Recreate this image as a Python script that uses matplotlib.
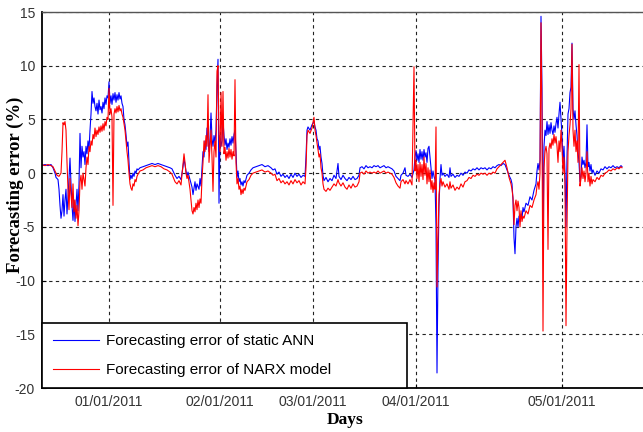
import matplotlib
matplotlib.use('Agg')
import matplotlib.pyplot as plt

plt.rcParams['axes.unicode_minus'] = False

# sample index (arbitrary units)
ann_t = [42, 45, 48, 51, 53, 55, 56, 58, 59, 60, 61, 62, 63, 64, 65, 66, 67, 68, 69, 70,
         71, 72, 73, 74, 75, 76, 77, 78, 79, 80, 81, 82, 83, 84, 85, 86, 87, 88, 89, 90,
         91, 92, 93, 94, 95, 96, 97, 98, 99, 100, 101, 102, 103, 104, 105, 106, 107, 108, 109, 110,
         111, 112, 113, 114, 115, 116, 117, 118, 119, 120, 121, 122, 123, 124, 125, 126, 127, 128, 129, 130,
         131, 132, 133, 134, 135, 136, 137, 138, 140, 143, 146, 149, 152, 155, 158, 161, 164, 167, 170, 172,
         175, 177, 179, 181, 183, 184, 185, 186, 187, 188, 190, 192, 193, 194, 195, 196, 197, 199, 200, 201,
         202, 203, 204, 205, 206, 207, 208, 209, 210, 211, 212, 213, 214, 215, 216, 217, 218, 219, 220, 221,
         222, 223, 224, 225, 226, 227, 228, 229, 230, 231, 232, 233, 234, 235, 236, 237, 238, 239, 240, 241,
         242, 243, 244, 245, 247, 249, 251, 253, 256, 259, 262, 265, 268, 271, 273, 275, 277, 279, 281, 283,
         285, 287, 289, 291, 293, 295, 297, 299, 301, 303, 305, 306, 307, 308, 310, 312, 314, 315, 316, 317,
         318, 319, 320, 321, 322, 323, 324, 326, 328, 330, 332, 334, 336, 338, 339, 341, 343, 345, 347, 349,
         351, 353, 355, 357, 359, 360, 362, 364, 366, 368, 370, 372, 374, 376, 378, 380, 382, 384, 386, 388,
         390, 392, 394, 396, 398, 400, 401, 403, 405, 406, 408, 410, 412, 414, 415, 416, 417, 418, 419, 420,
         421, 422, 423, 424, 425, 426, 427, 428, 429, 430, 431, 432, 433, 434, 435, 436, 437, 438, 439, 440,
         441, 442, 443, 445, 447, 449, 450, 451, 453, 455, 457, 459, 461, 463, 465, 467, 469, 471, 473, 475,
         477, 479, 481, 483, 485, 487, 489, 491, 493, 495, 497, 499, 501, 503, 505, 507, 509, 511, 512, 513,
         514, 515, 516, 517, 518, 519, 520, 521, 522, 523, 524, 526, 528, 530, 532, 534, 536, 537, 538, 539,
         540, 541, 542, 543, 544, 545, 546, 547, 548, 549, 550, 551, 552, 553, 554, 555, 556, 557, 558, 559,
         560, 561, 562, 563, 564, 565, 566, 567, 568, 569, 570, 571, 572, 573, 574, 575, 576, 577, 578, 579,
         580, 581, 582, 583, 584, 585, 586, 587, 588, 589, 590, 591, 592, 593, 595, 597, 599, 601, 603, 605,
         607, 609, 611, 613, 615, 617, 619, 621, 622]
ann_err = [0.7, 0.8, 0.7, 0.8, 0.5, 0.0, -0.4, -0.6, -1.5, -3.0, -4.2, -3.5, -2.0, -4.0, -2.5, -1.5, -3.8, -2.2, -0.5, 1.4,
           -1.0, -3.0, -4.4, -2.5, -4.5, -3.0, -1.5, -3.5, -1.0, 3.7, 0.5, 2.5, 1.5, 2.0, 0.8, 2.5, 1.8, 3.0, 2.2, 4.0,
           5.5, 7.6, 6.5, 7.0, 6.2, 5.8, 6.5, 5.5, 6.8, 5.9, 6.2, 5.6, 6.6, 6.0, 7.0, 6.4, 7.2, 7.0, 8.5, 6.5,
           7.2, 6.4, 7.4, 6.8, 7.5, 6.6, 7.3, 6.8, 7.5, 6.9, 7.2, 6.5, 6.2, 5.0, 4.5, 3.6, 2.5, 2.9, 1.0, -0.6,
           -0.2, -0.5, 0.0, -0.3, 0.2, 0.0, 0.4, 0.3, 0.5, 0.6, 0.7, 0.8, 0.9, 0.8, 0.9, 0.8, 0.7, 0.6, 0.5, 0.4,
           -0.2, -0.5, -0.3, -0.6, 0.6, 1.3, 0.8, 0.2, -0.3, 0.1, -0.6, -1.3, -2.0, -1.4, -0.8, -1.6, -1.0, -1.5, -0.5, -1.2,
           0.5, 2.0, 1.5, 3.0, 2.2, 4.2, 3.0, 2.0, 3.2, 5.6, 3.2, 2.5, 3.5, 2.8, 4.0, 8.0, 10.6, -2.8, 3.5, 2.5,
           3.0, 4.8, 3.5, 2.6, 3.2, 2.2, 2.8, 2.4, 3.2, 2.6, 3.4, 2.8, 3.6, 4.0, 2.0, -0.4, 0.2, -0.8, -0.5, -1.1,
           -0.8, -1.2, -0.7, -0.9, -0.2, 0.0, 0.3, 0.5, 0.6, 0.7, 0.8, 0.6, 0.7, 0.5, 0.3, 0.4, -0.1, 0.1, -0.3, -0.1,
           -0.4, -0.2, -0.5, -0.1, -0.4, 0.0, -0.3, -0.1, -0.4, -0.2, -0.3, 1.5, 4.0, 4.3, 4.0, 4.5, 4.8, 4.3, 4.0, 3.2,
           3.0, 2.2, 2.5, 1.5, 0.9, -0.2, -0.7, -0.4, -0.8, -0.5, -0.7, -0.2, -0.5, 0.9, -0.3, -0.6, -0.2, -0.5, -0.7, -0.4,
           -0.6, -0.3, -0.6, -0.5, -0.2, 0.5, 0.6, 0.4, 0.7, 0.5, 0.6, 0.5, 0.7, 0.6, 0.7, 0.5, 0.6, 0.7, 0.5, 0.6,
           0.5, 0.4, 0.2, -0.3, -0.5, -0.7, -0.2, 0.0, 0.5, -0.2, -0.3, -0.1, -0.4, 0.3, 1.5, 2.1, 1.2, 1.8, 1.0, 2.2,
           1.3, 2.0, 1.2, 2.2, 1.5, 1.9, 1.0, 2.3, 2.5, 1.5, 0.5, -0.5, 0.2, -0.3, -0.6, -5.0, -18.6, -9.0, -3.0, -0.5,
           0.8, -0.2, 0.0, -0.3, -0.1, -0.4, 0.5, -0.3, -0.1, -0.4, -0.2, -0.3, 0.0, -0.2, 0.1, 0.0, 0.3, 0.2, 0.4, 0.3,
           0.5, 0.3, 0.5, 0.4, 0.5, 0.3, 0.5, 0.4, 0.6, 0.5, 0.7, 0.8, 0.7, 0.9, 0.8, 0.3, -0.2, -0.6, -1.0, -2.5,
           -6.0, -7.5, -5.0, -4.2, -5.0, -4.0, -4.5, -3.8, -4.2, -3.2, -3.6, -2.8, -3.0, -2.2, -2.5, -1.6, -1.0, 0.2, 0.9, 0.3,
           1.2, 14.6, 7.9, -6.6, 2.5, 4.0, 3.5, 4.8, 3.6, 4.5, 3.7, 4.7, 4.0, 3.6, 4.4, 3.8, 4.6, 5.2, 4.2, 5.5,
           6.6, 5.0, 3.5, 1.0, 2.5, 0.0, -5.0, 1.5, 5.5, 6.0, 7.5, 8.0, 12.1, 6.0, 5.0, 5.8, 4.5, 3.5, 2.0, 1.0,
           -0.8, -0.3, 1.5, 0.8, 1.2, 0.5, 1.0, 4.5, 0.6, 1.0, 0.2, 0.8, 0.0, 0.3, -0.2, 0.2, 0.0, 0.4, 0.3, 0.6,
           0.4, 0.6, 0.5, 0.7, 0.5, 0.6, 0.5, 0.7, 0.6]

narx_t = [42, 45, 48, 51, 53, 55, 57, 59, 61, 62, 63, 64, 65, 66, 67, 68, 69, 70, 71, 72,
          73, 74, 75, 76, 77, 78, 79, 80, 81, 82, 83, 84, 85, 86, 87, 88, 89, 90, 91, 92,
          93, 94, 95, 96, 97, 98, 99, 100, 101, 102, 103, 104, 105, 106, 107, 108, 109, 110, 111, 112,
          113, 114, 115, 116, 117, 118, 119, 120, 121, 122, 123, 124, 125, 126, 127, 128, 129, 130, 131, 132,
          133, 134, 135, 136, 137, 138, 140, 143, 146, 149, 152, 155, 158, 161, 164, 167, 170, 172, 175, 177,
          179, 181, 183, 184, 185, 186, 187, 188, 190, 191, 192, 193, 194, 195, 196, 197, 198, 199, 200, 201,
          202, 203, 204, 205, 206, 207, 208, 209, 210, 211, 212, 213, 214, 215, 216, 217, 218, 219, 220, 221,
          222, 223, 224, 225, 226, 227, 228, 229, 230, 231, 232, 233, 234, 235, 236, 237, 238, 239, 240, 241,
          242, 243, 244, 245, 247, 249, 251, 253, 256, 259, 262, 265, 268, 271, 273, 275, 277, 279, 281, 283,
          285, 287, 289, 291, 293, 295, 297, 299, 301, 303, 305, 306, 307, 308, 310, 312, 314, 315, 316, 317,
          318, 319, 320, 321, 322, 323, 324, 326, 328, 330, 332, 334, 336, 338, 339, 341, 343, 345, 347, 349,
          351, 353, 355, 357, 359, 360, 362, 364, 366, 368, 370, 372, 374, 376, 378, 380, 382, 384, 386, 388,
          390, 392, 394, 396, 398, 400, 401, 403, 405, 406, 408, 410, 412, 414, 415, 416, 417, 418, 419, 420,
          421, 422, 423, 424, 425, 426, 427, 428, 429, 430, 431, 432, 433, 434, 435, 436, 437, 438, 439, 440,
          441, 442, 443, 445, 447, 449, 450, 451, 453, 455, 457, 459, 461, 463, 465, 467, 469, 471, 473, 475,
          477, 479, 481, 483, 485, 487, 489, 491, 493, 495, 497, 499, 501, 503, 505, 507, 509, 511, 512, 513,
          514, 515, 516, 517, 518, 519, 520, 521, 522, 523, 524, 526, 528, 530, 532, 534, 536, 537, 538, 539,
          540, 541, 542, 543, 544, 545, 546, 547, 548, 549, 550, 551, 552, 553, 554, 555, 556, 557, 558, 559,
          560, 561, 562, 563, 564, 565, 566, 567, 568, 569, 570, 571, 572, 573, 574, 575, 576, 577, 578, 579,
          580, 581, 582, 583, 584, 585, 586, 587, 588, 589, 590, 591, 592, 593, 595, 597, 599, 601, 603, 605,
          607, 609, 611, 613, 615, 617, 619, 621, 622]
narx_err = [0.8, 0.7, 0.8, 0.7, 0.6, 0.2, -0.2, -0.3, 0.0, 2.0, 4.7, 4.5, 4.8, 4.0, 1.0, -1.5, -3.4, -0.5, -2.0, -3.2,
            -1.0, -3.6, -2.5, -4.2, -3.0, -4.9, -3.5, -0.8, -0.2, -1.5, 0.0, -0.6, -1.2, 0.5, 1.5, 0.8, 2.5, 2.0, 3.0, 2.6,
            3.6, 3.2, 4.2, 3.4, 4.0, 3.6, 4.3, 3.8, 4.4, 3.9, 4.6, 4.0, 4.8, 4.4, 5.2, 5.0, 7.9, 5.5, 6.0, 5.2,
            -3.0, 5.5, 6.0, 5.6, 6.2, 5.7, 6.3, 5.8, 6.0, 5.5, 5.2, 4.6, 4.0, 3.0, 2.0, 1.2, 0.0, -1.0, -1.4, -1.6,
            -1.0, -1.2, -0.6, -0.8, -0.3, -0.1, 0.2, 0.3, 0.5, 0.6, 0.7, 0.6, 0.7, 0.6, 0.4, 0.3, 0.1, -0.1, -0.8, -1.0,
            -0.7, -1.1, 0.8, 1.8, 1.0, 0.0, -0.5, -0.2, -1.5, -2.5, -3.5, -3.8, -3.2, -3.6, -2.8, -3.4, -2.5, -3.2, -2.4, -2.8,
            -0.5, 1.0, 3.0, 2.0, 3.5, 2.5, 7.3, 1.0, 2.5, 4.0, 1.5, -1.7, 2.0, 3.0, 1.5, 9.5, 10.0, 3.5, 2.0, 7.5,
            2.5, 7.6, 1.8, 2.4, 1.2, 2.0, 1.4, 2.3, 1.5, 2.2, 1.3, 2.0, 1.6, 8.7, 1.0, -1.0, -0.5, -1.5, -1.2, -2.0,
            -1.5, -1.9, -1.4, -1.6, -0.8, -0.6, -0.2, 0.0, 0.1, 0.2, 0.3, 0.1, 0.2, 0.0, -0.2, -0.1, -0.7, -0.5, -0.9, -0.7,
            -1.0, -0.8, -1.1, -0.7, -1.0, -0.6, -0.9, -0.7, -1.1, -0.8, -1.0, 0.5, 3.5, 4.0, 3.7, 4.2, 5.2, 4.0, 3.5, 2.8,
            2.2, 1.5, 1.8, 0.5, 0.0, -1.0, -1.5, -1.7, -1.4, -1.6, -1.3, -1.0, -1.2, -0.6, -0.9, -1.2, -0.9, -1.3, -1.5, -1.1,
            -1.4, -1.0, -1.3, -1.2, -0.8, 0.0, 0.1, -0.1, 0.2, 0.0, 0.1, 0.0, 0.1, 0.0, 0.2, 0.0, 0.1, 0.2, 0.0, 0.1,
            0.0, -0.1, -0.4, -0.9, -1.2, -1.4, -0.8, -0.6, -1.0, -0.7, -1.0, -0.6, -1.1, 9.9, 0.2, 1.2, -0.5, 0.8, -0.8, 1.0,
            -0.3, 0.8, -0.6, 1.5, -0.2, 0.9, -1.0, 0.5, -0.8, 0.3, -1.5, -0.7, -1.8, -0.9, -1.5, 4.3, -10.6, -6.0, -2.0, -1.0,
            -0.5, -1.2, -0.8, -1.3, -1.0, -1.5, -0.8, -1.4, -1.1, -1.6, -1.3, -1.5, -1.0, -1.3, -0.8, -0.7, -0.4, -0.5, -0.2, -0.3,
            -0.1, -0.2, 0.0, -0.1, 0.0, -0.2, 0.0, -0.1, 0.1, 0.0, 0.4, 0.6, 0.8, 1.0, 1.2, 0.5, -0.4, -1.0, -1.5, -2.3,
            -4.8, -3.0, -2.5, -3.5, -2.6, -3.2, -5.0, -3.5, -4.5, -4.0, -4.2, -3.5, -3.8, -3.0, -3.2, -2.5, -2.0, -1.2, -0.8, -1.5,
            0.0, 14.0, 5.0, -14.7, 0.5, 2.0, 2.5, 1.8, -7.1, 2.3, 2.8, 2.3, 3.2, 2.6, 3.6, 2.8, 3.4, 2.5, 1.0, 3.0,
            2.0, 4.0, 2.5, 0.0, 1.5, -1.0, -14.2, -5.0, 2.0, 3.5, 4.5, 6.0, 12.0, 4.0, 2.5, 4.0, 2.0, 3.0, 1.0, 10.1,
            -1.2, -0.5, 0.5, -0.5, 0.2, -0.8, 0.0, 2.0, -0.8, 0.0, -1.2, -0.3, -1.0, -0.6, -0.8, -0.4, -0.6, -0.2, -0.3, 0.0,
            0.1, 0.3, 0.2, 0.4, 0.3, 0.5, 0.4, 0.6, 0.5]

tick_pos = [109, 220, 313, 416, 562]
tick_labels = ['01/01/2011', '02/01/2011', '03/01/2011', '04/01/2011', '05/01/2011']
y_ticks = [-20, -15, -10, -5, 0, 5, 10, 15]

fig = plt.figure(figsize=(6.43, 4.32), dpi=100)
ax = fig.add_axes([42 / 643, 44 / 432, 606 / 643, 376 / 432])

ax.plot(ann_t, ann_err, color='#0000ff', lw=0.8, label='Forecasting error of static ANN')
ax.plot(narx_t, narx_err, color='#ff0000', lw=0.8, label='Forecasting error of NARX model')

ax.set_xlim(42, 648)
ax.set_ylim(-20, 15)
ax.set_xticks(tick_pos)
ax.set_xticklabels(tick_labels)
ax.set_yticks(y_ticks)
ax.grid(True, color='#222222', linestyle=(0, (3, 3)), lw=0.8)
ax.tick_params(direction='in', length=3, pad=5, labelsize=10)
for lab in ax.get_xticklabels() + ax.get_yticklabels():
    lab.set_fontfamily('Liberation Sans')
    lab.set_color('#333333')

for side in ['left', 'bottom']:
    ax.spines[side].set_linewidth(1.3)
    ax.spines[side].set_color('black')
ax.spines['top'].set_color('#555555')
ax.spines['top'].set_linewidth(1.0)
ax.spines['right'].set_visible(False)

ax.set_xlabel('Days', fontfamily='Liberation Serif', fontweight='bold', fontsize=12.5, labelpad=2)
ax.set_ylabel('Forecasting error (%)', fontfamily='Liberation Serif', fontweight='bold', fontsize=13.5,
              va='center')
ax.yaxis.set_label_coords(-27 / 606, 0.54)

leg = ax.legend(loc='lower left', bbox_to_anchor=(0, 0, (407 - 42) / 606, 0.2), mode='expand',
                borderaxespad=0, fancybox=False, framealpha=1, edgecolor='black',
                prop={'family': 'Liberation Sans', 'size': 11}, handlelength=3.0,
                handletextpad=0.45, borderpad=0.71, labelspacing=1.0)
leg.get_frame().set_linewidth(1.2)

fig.savefig('out.png', dpi=100)
